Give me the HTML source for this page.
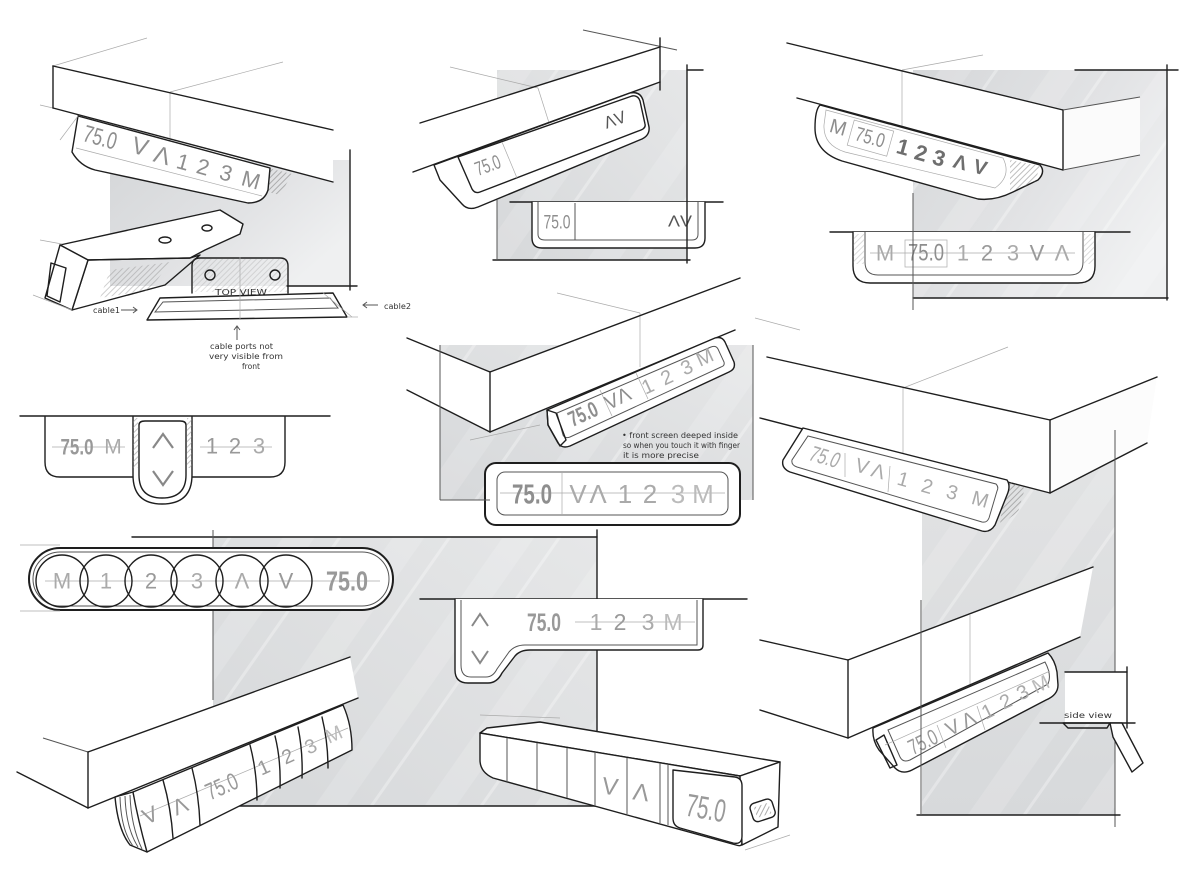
<!DOCTYPE html>
<html><head><meta charset="utf-8"><style>
html,body{margin:0;padding:0;background:#fff;}
svg{display:block;}
.t{font-family:"Liberation Sans",sans-serif;fill:#8e8e8e;text-anchor:middle;dominant-baseline:central;}
.d{fill:#6e6e6e;}
.h{font-family:"DejaVu Sans","Liberation Sans",sans-serif;fill:#333;font-size:8px;}
.k{stroke:#1e1e1e;stroke-width:1.4;fill:none;stroke-linejoin:round;stroke-linecap:round;}
.m{stroke:#555;stroke-width:1;fill:none;}
.l{stroke:#aaa;stroke-width:0.7;fill:none;}
.w{fill:#fff;}
</style></head><body>
<svg width="1200" height="885" viewBox="0 0 1200 885" xmlns="http://www.w3.org/2000/svg">
<defs>
<linearGradient id="g1" x1="0" y1="0" x2="1" y2="0.6"><stop offset="0" stop-color="#d5d7d9"/><stop offset="0.6" stop-color="#e2e3e5"/><stop offset="1" stop-color="#eff0f1"/></linearGradient>
<linearGradient id="g2" x1="0" y1="1" x2="1" y2="0"><stop offset="0" stop-color="#d6d8da"/><stop offset="1" stop-color="#e6e7e8"/></linearGradient>
<linearGradient id="g3" x1="0" y1="0" x2="0" y2="1"><stop offset="0" stop-color="#e2e3e4"/><stop offset="1" stop-color="#d7d9db"/></linearGradient>
<pattern id="st" patternUnits="userSpaceOnUse" width="90" height="90" patternTransform="rotate(35)"><rect width="26" height="90" fill="#fff" opacity="0.14"/><rect x="45" width="3" height="90" fill="#fff" opacity="0.3"/></pattern>
<pattern id="ht" patternUnits="userSpaceOnUse" width="4" height="4" patternTransform="rotate(45)"><rect width="1" height="4" fill="#888"/></pattern>
</defs>

<!-- ===== GRAY BACKDROPS ===== -->
<rect x="110" y="160" width="240" height="126" fill="url(#g1)"/>
<rect x="497" y="70" width="190" height="190" fill="url(#g2)"/>
<rect x="497" y="70" width="190" height="190" fill="url(#st)"/>
<rect x="913" y="70" width="254" height="228" fill="url(#g1)"/>
<rect x="913" y="70" width="254" height="228" fill="url(#st)"/>
<rect x="440" y="345" width="313" height="155" fill="url(#g2)"/>
<rect x="440" y="345" width="313" height="155" fill="url(#st)"/>
<rect x="922" y="440" width="193" height="375" fill="url(#g3)"/>
<rect x="922" y="440" width="193" height="375" fill="url(#st)"/>
<rect x="213" y="537" width="384" height="269" fill="url(#g2)"/>
<rect x="213" y="537" width="384" height="269" fill="url(#st)"/>

<!-- ===== PANEL A ===== -->
<line class="k" x1="350" y1="150" x2="350" y2="290"/>
<line class="k" x1="287" y1="286" x2="357" y2="286"/>
<polygon class="w" points="53,66 333,130 333,182 53,108"/>
<line class="l" x1="53" y1="66" x2="147" y2="38"/>
<line class="l" x1="170" y1="92" x2="283" y2="62"/>
<line class="l" x1="170" y1="92" x2="170" y2="175"/>
<line class="l" x1="40" y1="105" x2="53" y2="108"/>
<line class="k" x1="53" y1="66" x2="333" y2="130"/>
<line class="k" x1="53" y1="66" x2="53" y2="108"/>
<line class="k" x1="53" y1="108" x2="333" y2="182"/>
<polygon points="268,168 292,174 280,195 268,192" fill="url(#ht)" opacity="0.6"/>
<path class="k w" d="M78,116 L270,168 L268,190 Q264,203 248,203 L95,170 Q80,166 72,152 Z"/>
<line class="l" x1="76" y1="148" x2="262" y2="196"/>
<line class="l" x1="60" y1="140" x2="78" y2="116"/>
<text class="t" font-size="24" textLength="34" lengthAdjust="spacingAndGlyphs" transform="translate(100,138) rotate(15.6)">75.0</text>
<text class="t" font-size="24" transform="translate(140,147) rotate(15.6)">V</text>
<text class="t" font-size="24" transform="translate(162,156) rotate(15.6)">Λ</text>
<text class="t" font-size="22" transform="translate(183,162) rotate(15.6)">1</text>
<text class="t" font-size="22" transform="translate(203,167) rotate(15.6)">2</text>
<text class="t" font-size="22" transform="translate(226,173) rotate(15.6)">3</text>
<text class="t" font-size="22" transform="translate(251,180) rotate(15.6)">M</text>
<!-- arm -->
<polygon class="k w" points="60,245 220,210 243,224 240,234 205,250 190,258 88,260"/>
<polygon class="k" fill="#eee" points="88,260 190,258 200,255 165,285 72,310"/>
<polygon points="110,270 170,262 150,290 100,298" fill="url(#ht)" opacity="0.4"/>
<polygon class="k w" points="60,245 88,260 72,310 45,298"/>
<polygon class="k" fill="#d8d8d8" points="51,263 66,268 60,302 47,296"/>
<ellipse class="k" cx="165" cy="240" rx="6" ry="3"/>
<ellipse class="k" cx="207" cy="228" rx="5" ry="3"/>
<line class="l" x1="40" y1="240" x2="62" y2="244"/>
<line class="l" x1="33" y1="295" x2="72" y2="310"/>
<!-- top view plate -->
<path class="k" fill="#f2f2f2" d="M192,293 L192,266 Q192,258 200,258 L280,258 Q288,258 288,266 L288,293"/>
<rect x="193" y="259" width="94" height="33" fill="url(#ht)" opacity="0.25"/>
<circle class="k" cx="210" cy="275" r="5" fill="#fff"/>
<circle class="k" cx="275" cy="275" r="5" fill="#fff"/>
<text class="h" x="215" y="295" textLength="52" lengthAdjust="spacingAndGlyphs">TOP VIEW</text>
<polygon class="k w" points="147,320 160,298 333,293 347,317"/>
<polygon class="m" points="155,312 163,302 330,298 338,308"/>
<line class="l" x1="240" y1="257" x2="240" y2="320"/>
<line class="l" x1="322" y1="292" x2="352" y2="317"/>
<line class="l" x1="347" y1="317" x2="358" y2="317"/>
<text class="h" x="93" y="313" textLength="27" lengthAdjust="spacingAndGlyphs">cable1</text>
<path class="m" d="M121,310 L137,310 M133,307 L137,310 L133,313"/>
<path class="m" d="M378,305 L363,305 M367,302 L363,305 L367,308"/>
<text class="h" x="384" y="309" textLength="27" lengthAdjust="spacingAndGlyphs">cable2</text>
<path class="m" d="M237,340 L237,326 M234,330 L237,326 L240,330"/>
<text class="h" x="210" y="349" textLength="63" lengthAdjust="spacingAndGlyphs">cable ports not</text>
<text class="h" x="209" y="359" textLength="74" lengthAdjust="spacingAndGlyphs">very visible from</text>
<text class="h" x="242" y="369" textLength="18" lengthAdjust="spacingAndGlyphs">front</text>

<!-- ===== PANEL B ===== -->
<polygon class="w" points="410,126 660,47 660,82 410,175"/>
<line class="l" x1="450" y1="67" x2="538" y2="88"/>
<line class="l" x1="538" y1="88" x2="563" y2="167"/>
<line class="m" x1="583" y1="30" x2="677" y2="50"/>
<line class="k" x1="420" y1="123" x2="660" y2="47"/>
<line class="k" x1="660" y1="38" x2="660" y2="90"/>
<line class="k" x1="413" y1="172" x2="660" y2="82"/>
<path class="k w" d="M434,165 L630,93 Q640,91 643,100 L649,127 Q650,135 642,139 L478,207 Q468,211 462,204 L440,180 Z"/>
<path class="k w" d="M458,157 L632,96 Q638,95 640,101 L645,124 Q646,128 641,130 L480,192 Q475,194 472,189 Z"/>
<line class="l" x1="502" y1="142" x2="517" y2="178"/>
<text class="t" font-size="20" textLength="26" lengthAdjust="spacingAndGlyphs" transform="translate(488,166) rotate(-20)">75.0</text>
<text class="t d" font-size="17" textLength="22" lengthAdjust="spacingAndGlyphs" transform="translate(615,120) rotate(-20)" style="fill:#555">ΛV</text>
<line class="k" x1="510" y1="202" x2="723" y2="202"/>
<path class="k w" d="M532,202 L532,238 Q532,248 542,248 L695,248 Q705,248 705,238 L705,202"/>
<path class="m" d="M538,202 L538,234 Q538,240 545,240 L692,240 Q698,240 698,234 L698,202"/>
<line class="m" x1="575" y1="203" x2="575" y2="240"/>
<text class="t" x="557" y="223" font-size="19" textLength="27" lengthAdjust="spacingAndGlyphs">75.0</text>
<text class="t" x="680" y="222" font-size="16" textLength="24" lengthAdjust="spacingAndGlyphs" style="fill:#555">ΛV</text>
<line class="k" x1="687" y1="65" x2="687" y2="263"/>
<line class="k" x1="687" y1="70" x2="703" y2="70"/>
<line class="k" x1="493" y1="260" x2="690" y2="260"/>
<line class="m" x1="497" y1="200" x2="497" y2="260"/>

<!-- ===== PANEL C ===== -->
<polygon class="w" points="787,43 1063,110 1063,170 797,98"/>
<polygon fill="#fbfbfb" points="1063,110 1140,97 1140,155 1063,170"/>
<line class="l" x1="902" y1="70" x2="983" y2="55"/>
<line class="l" x1="902" y1="70" x2="902" y2="130"/>
<line class="k" x1="787" y1="43" x2="1063" y2="110"/>
<line class="k" x1="1063" y1="110" x2="1063" y2="170"/>
<line class="k" x1="797" y1="98" x2="1063" y2="170"/>
<line class="m" x1="1063" y1="110" x2="1140" y2="97"/>
<line class="m" x1="1063" y1="170" x2="1140" y2="155"/>
<path class="k w" d="M820,105 L1040,165 Q1046,172 1038,180 L1013,192 Q995,201 978,199 L842,161 Q815,152 815,128 Q815,110 820,105 Z"/>
<path class="l" d="M826,110 L1003,158 Q1012,176 995,188 L845,152 Q823,145 824,125 Z"/>
<polygon points="1010,160 1040,166 1035,182 1010,192" fill="url(#ht)" opacity="0.55"/>
<text class="t" font-size="20" transform="translate(838,128) rotate(15.7)">M</text>
<rect class="l" x="-20" y="-13" width="41" height="26" transform="translate(870,138) rotate(15.7)"/>
<text class="t" font-size="20" textLength="30" lengthAdjust="spacingAndGlyphs" transform="translate(870,138) rotate(15.7)">75.0</text>
<text class="t d" font-size="22" transform="translate(903,147) rotate(15.7)" font-weight="bold">1</text>
<text class="t d" font-size="22" transform="translate(921,153) rotate(15.7)" font-weight="bold">2</text>
<text class="t d" font-size="22" transform="translate(939,158) rotate(15.7)" font-weight="bold">3</text>
<text class="t d" font-size="20" transform="translate(960,163) rotate(15.7)" font-weight="bold">Λ</text>
<text class="t d" font-size="20" transform="translate(980,168) rotate(15.7)" font-weight="bold">V</text>
<line class="k" x1="830" y1="232" x2="1130" y2="232"/>
<path class="k w" d="M853,232 L853,266 Q853,283 870,283 L1078,283 Q1095,283 1095,266 L1095,232"/>
<path class="m" d="M865,232 L865,262 Q865,275 878,275 L1070,275 Q1083,275 1083,262 L1083,232"/>
<rect x="853" y="234" width="11" height="30" fill="url(#ht)" opacity="0.3"/>
<rect x="1084" y="234" width="10" height="30" fill="url(#ht)" opacity="0.3"/>
<line class="l" x1="870" y1="253" x2="1075" y2="253"/>
<rect class="l" x="905" y="240" width="42" height="27"/>
<text class="t" x="885" y="253" font-size="22" style="fill:#aaa">M</text>
<text class="t" x="926" y="253" font-size="24" textLength="36" lengthAdjust="spacingAndGlyphs">75.0</text>
<text class="t" x="963" y="253" font-size="22" style="fill:#aaa">1</text>
<text class="t" x="987" y="253" font-size="22" style="fill:#999">2</text>
<text class="t" x="1013" y="253" font-size="22" style="fill:#aaa">3</text>
<text class="t" x="1037" y="253" font-size="22" style="fill:#999">V</text>
<text class="t" x="1062" y="253" font-size="22" style="fill:#aaa">Λ</text>
<line class="k" x1="913" y1="298" x2="1168" y2="298"/>
<line class="k" x1="1167" y1="65" x2="1167" y2="300"/>
<line class="k" x1="1075" y1="70" x2="1178" y2="70"/>
<line class="m" x1="913" y1="193" x2="913" y2="310"/>

<!-- ===== PANEL D ===== -->
<line class="k" x1="20" y1="416" x2="330" y2="416"/>
<path class="k w" d="M45,417 L45,462 Q45,477 60,477 L270,477 Q285,477 285,462 L285,417"/>
<line class="l" x1="52" y1="447" x2="125" y2="447"/>
<line class="l" x1="200" y1="447" x2="272" y2="447"/>
<path class="k w" d="M133,417 L133,475 Q133,504 162,504 Q192,504 192,475 L192,417"/>
<rect x="133" y="418" width="5" height="50" fill="url(#ht)" opacity="0.5"/>
<rect x="187" y="418" width="5" height="50" fill="url(#ht)" opacity="0.5"/>
<path class="k w" d="M139,425 Q139,421 145,421 L180,421 Q186,421 186,425 L186,475 Q186,498 162,498 Q139,498 139,475 Z"/>
<text class="t" x="77" y="447" font-size="22" textLength="33" lengthAdjust="spacingAndGlyphs" font-weight="bold" style="fill:#999">75.0</text>
<text class="t" x="113" y="447" font-size="21" style="fill:#aaa">M</text>
<path d="M153,448 L163,434 L173,448" stroke="#888" stroke-width="2.2" fill="none"/>
<path d="M153,471 L163,485 L173,471" stroke="#888" stroke-width="2.2" fill="none"/>
<text class="t" x="212" y="446" font-size="22" style="fill:#999">1</text>
<text class="t" x="235" y="446" font-size="22" style="fill:#999">2</text>
<text class="t" x="259" y="446" font-size="22" style="fill:#aaa">3</text>

<!-- ===== PANEL E ===== -->
<polygon class="w" points="490,372 735,280 735,332 490,432"/>
<polygon class="w" points="407,338 490,372 490,432 407,390"/>
<line class="l" x1="557" y1="293" x2="640" y2="313"/>
<line class="l" x1="640" y1="313" x2="640" y2="367"/>
<line class="l" x1="470" y1="440" x2="540" y2="425"/>
<line class="l" x1="755" y1="318" x2="800" y2="330"/>
<line class="k" x1="407" y1="338" x2="490" y2="372"/>
<line class="k" x1="490" y1="372" x2="740" y2="278"/>
<line class="k" x1="490" y1="372" x2="490" y2="432"/>
<line class="k" x1="407" y1="390" x2="490" y2="432"/>
<line class="k" x1="490" y1="432" x2="735" y2="330"/>
<path class="k w" d="M547,410 L715,338 Q722,336 725,342 L734,362 Q736,369 729,372 L570,446 Q562,449 558,443 L548,425 Z"/>
<path class="m" d="M557,413 L711,347 Q716,345 718,349 L724,362 Q725,366 721,367 L570,437 Q565,439 563,435 Z"/>
<path class="k" fill="#e5e5e5" d="M547,410 L556,413 L566,440 L560,446 L548,425 Z"/>
<line class="l" x1="600" y1="390" x2="612" y2="416"/>
<line class="l" x1="636" y1="373" x2="648" y2="399"/>
<text class="t" font-size="22" textLength="30" lengthAdjust="spacingAndGlyphs" transform="translate(583,414) rotate(-24.7)" font-weight="bold">75.0</text>
<text class="t" font-size="20" transform="translate(612,402) rotate(-24.7)">V</text>
<text class="t" font-size="20" transform="translate(624,396) rotate(-24.7)">Λ</text>
<text class="t" font-size="20" transform="translate(648,387) rotate(-24.7)" style="fill:#aaa">1</text>
<text class="t" font-size="20" transform="translate(667,378) rotate(-24.7)" style="fill:#aaa">2</text>
<text class="t" font-size="20" transform="translate(687,368) rotate(-24.7)" style="fill:#aaa">3</text>
<text class="t" font-size="20" transform="translate(705,358) rotate(-24.7)" style="fill:#aaa">M</text>
<text class="h" x="622" y="438" textLength="116" lengthAdjust="spacingAndGlyphs">• front screen deeped inside</text>
<text class="h" x="623" y="448" textLength="117" lengthAdjust="spacingAndGlyphs">so when you touch it with finger</text>
<text class="h" x="623" y="458" textLength="76" lengthAdjust="spacingAndGlyphs">it is more precise</text>
<rect x="485" y="463" width="255" height="62" rx="11" class="k w" style="stroke-width:2"/>
<rect x="497" y="472" width="231" height="43" rx="8" class="m"/>
<line class="l" x1="500" y1="493" x2="725" y2="493"/>
<line class="l" x1="562" y1="472" x2="562" y2="515"/>
<text class="t" x="532" y="494" font-size="28" textLength="40" lengthAdjust="spacingAndGlyphs" font-weight="bold">75.0</text>
<text class="t" x="578" y="494" font-size="26" style="fill:#aaa">V</text>
<text class="t" x="598" y="494" font-size="26" style="fill:#aaa">Λ</text>
<text class="t" x="625" y="494" font-size="26" style="fill:#aaa">1</text>
<text class="t" x="650" y="494" font-size="26" style="fill:#aaa">2</text>
<text class="t" x="678" y="494" font-size="26" style="fill:#bbb">3</text>
<text class="t" x="703" y="494" font-size="26" style="fill:#bbb">M</text>
<line class="m" x1="440" y1="500" x2="490" y2="500"/>
<line class="m" x1="753" y1="345" x2="753" y2="500"/>
<line class="m" x1="440" y1="345" x2="440" y2="500"/>

<!-- ===== PANEL F ===== -->
<polygon class="w" points="767,357 1050,420 1050,493 760,418"/>
<polygon fill="#fcfcfc" points="1050,420 1157,377 1147,443 1050,493"/>
<line class="l" x1="903" y1="388" x2="1008" y2="347"/>
<line class="l" x1="903" y1="388" x2="903" y2="455"/>
<line class="k" x1="767" y1="357" x2="1050" y2="420"/>
<line class="k" x1="760" y1="418" x2="1050" y2="493"/>
<line class="k" x1="1050" y1="420" x2="1050" y2="493"/>
<line class="k" x1="1050" y1="420" x2="1157" y2="377"/>
<line class="k" x1="1050" y1="493" x2="1147" y2="443"/>
<polygon points="1005,480 1025,488 1018,512 1000,525" fill="url(#ht)" opacity="0.6"/>
<path class="k w" d="M803,428 L1007,480 Q1011,486 1007,495 L995,525 Q990,533 982,531 L790,472 Q781,468 783,460 Z"/>
<path class="m" d="M808,436 L996,484 Q999,487 997,491 L989,518 Q987,523 982,522 L797,467 Q791,465 792,460 Z"/>
<line class="l" x1="845" y1="453" x2="845" y2="477"/>
<line class="l" x1="890" y1="466" x2="888" y2="492"/>
<text class="t" font-size="22" textLength="30" lengthAdjust="spacingAndGlyphs" transform="translate(825,457) rotate(16) skewX(-10)" style="fill:#aaa">75.0</text>
<text class="t" font-size="20" transform="translate(862,467) rotate(16)" style="fill:#aaa">V</text>
<text class="t" font-size="20" transform="translate(878,472) rotate(16)" style="fill:#aaa">Λ</text>
<text class="t" font-size="20" transform="translate(903,480) rotate(16)" style="fill:#aaa">1</text>
<text class="t" font-size="20" transform="translate(927,487) rotate(16)" style="fill:#aaa">2</text>
<text class="t" font-size="20" transform="translate(952,493) rotate(16)" style="fill:#aaa">3</text>
<text class="t" font-size="20" transform="translate(980,500) rotate(16)" style="fill:#aaa">M</text>
<line class="m" x1="1115" y1="430" x2="1115" y2="827"/>

<!-- ===== PANEL G (pill) ===== -->
<line class="k" x1="132" y1="537" x2="597" y2="537"/>
<line class="m" x1="213" y1="530" x2="213" y2="700"/>
<line class="k" x1="597" y1="530" x2="597" y2="806"/>
<line class="k" x1="213" y1="806" x2="597" y2="806"/>
<rect x="29" y="548" width="364" height="62" rx="31" class="k w" style="stroke-width:2"/>
<rect x="33" y="552" width="356" height="54" rx="27" class="m"/>
<line class="l" x1="20" y1="545" x2="60" y2="545"/>
<line class="l" x1="20" y1="611" x2="60" y2="611"/>
<line class="l" x1="45" y1="581" x2="380" y2="581"/>
<circle class="k" cx="62" cy="581" r="26"/>
<circle class="k" cx="106" cy="581" r="26"/>
<circle class="k" cx="151" cy="581" r="26"/>
<circle class="k" cx="197" cy="581" r="26"/>
<circle class="k" cx="242" cy="581" r="26"/>
<circle class="k" cx="286" cy="581" r="26"/>
<text class="t" x="62" y="581" font-size="22" style="fill:#aaa">M</text>
<text class="t" x="106" y="581" font-size="22" style="fill:#aaa">1</text>
<text class="t" x="151" y="581" font-size="22" style="fill:#999">2</text>
<text class="t" x="197" y="581" font-size="22" style="fill:#aaa">3</text>
<text class="t" x="242" y="581" font-size="22" style="fill:#aaa">Λ</text>
<text class="t" x="286" y="581" font-size="22" style="fill:#999">V</text>
<text class="t" x="347" y="581" font-size="28" textLength="42" lengthAdjust="spacingAndGlyphs" font-weight="bold" style="fill:#999">75.0</text>

<!-- ===== PANEL H ===== -->
<line class="k" x1="420" y1="599" x2="747" y2="599"/>
<path class="k w" d="M455,599 L455,670 Q455,683 468,683 L488,683 Q497,683 502,673 L515,656 Q520,650 530,650 L698,650 Q703,650 703,645 L703,599"/>
<path class="m" d="M461,600 L461,665 Q461,677 471,677 L486,677 Q493,677 497,669 L509,652 Q515,645 525,645 L697,645 L697,600"/>
<line class="l" x1="575" y1="622" x2="695" y2="622"/>
<path d="M472,626 L480,614 L488,626" stroke="#888" stroke-width="2" fill="none"/>
<path d="M472,651 L480,663 L488,651" stroke="#888" stroke-width="2" fill="none"/>
<text class="t" x="544" y="623" font-size="25" textLength="34" lengthAdjust="spacingAndGlyphs" font-weight="bold" style="fill:#999">75.0</text>
<text class="t" x="596" y="622" font-size="23" style="fill:#aaa">1</text>
<text class="t" x="620" y="622" font-size="23" style="fill:#999">2</text>
<text class="t" x="648" y="622" font-size="23" style="fill:#aaa">3</text>
<text class="t" x="673" y="622" font-size="23" style="fill:#bbb">M</text>

<!-- ===== PANEL I (device) ===== -->
<line class="l" x1="480" y1="715" x2="560" y2="718"/>
<polygon class="k w" points="487,728 540,722 780,762 740,776 480,733"/>
<path class="k w" d="M480,733 L740,776 L742,843 Q742,847 736,845 L493,778 Q480,772 480,760 Z"/>
<path class="k w" d="M740,776 L780,762 L778,827 L742,845 Z"/>
<line class="m" x1="507" y1="738" x2="507" y2="782"/>
<line class="m" x1="537" y1="743" x2="537" y2="790"/>
<line class="m" x1="567" y1="748" x2="567" y2="798"/>
<line class="m" x1="595" y1="752" x2="595" y2="806"/>
<line class="m" x1="627" y1="758" x2="627" y2="814"/>
<line class="m" x1="660" y1="763" x2="660" y2="823"/>
<line class="m" x1="668" y1="765" x2="668" y2="825"/>
<path class="k w" d="M673,770 L735,777 Q742,778 742,786 L742,836 Q742,845 733,843 L680,828 Q673,826 673,818 Z"/>
<text class="t" font-size="24" transform="translate(610,787) rotate(8)" style="fill:#999">V</text>
<text class="t" font-size="24" transform="translate(641,793) rotate(8)" style="fill:#999">Λ</text>
<text class="t" font-size="32" textLength="40" lengthAdjust="spacingAndGlyphs" transform="translate(706,808) rotate(10)" style="fill:#999">75.0</text>
<rect class="k" x="751" y="801" width="23" height="19" rx="5" transform="rotate(-18 762 810)" fill="#eee"/>
<rect x="755" y="805" width="15" height="11" transform="rotate(-18 762 810)" fill="url(#ht)" opacity="0.7"/>
<line class="l" x1="745" y1="850" x2="790" y2="835"/>

<!-- ===== PANEL J ===== -->
<polygon class="w" points="88,752 350,657 358,698 88,808"/>
<polygon class="w" points="43,738 88,752 88,808 17,772"/>
<line class="m" x1="43" y1="738" x2="88" y2="752"/>
<line class="k" x1="88" y1="752" x2="350" y2="657"/>
<line class="k" x1="88" y1="752" x2="88" y2="808"/>
<line class="k" x1="17" y1="772" x2="88" y2="808"/>
<line class="k" x1="88" y1="808" x2="358" y2="698"/>
<path class="k" fill="#eee" d="M115,797 L133,792 L147,852 L130,845 Q118,830 115,797 Z"/>
<path class="m" d="M120,797 Q121,830 133,846 M125,796 Q126,828 138,847 M130,795 Q131,826 142,849"/>
<path class="k w" d="M133,792 L343,705 Q352,725 352,750 L147,852 Q138,820 133,792 Z"/>
<line class="l" x1="140" y1="816" x2="348" y2="728"/>
<path class="k" d="M163,780 Q171,808 173,838"/>
<path class="k" d="M192,768 Q199,795 200,825"/>
<path class="k" d="M250,745 Q257,772 257,800"/>
<path class="k" d="M275,736 Q281,760 280,788"/>
<path class="k" d="M298,727 Q303,752 302,778"/>
<path class="k" d="M322,717 Q328,742 328,768"/>
<text class="t" font-size="22" transform="translate(150,815) rotate(-24)" style="fill:#999">V</text>
<text class="t" font-size="22" transform="translate(180,806) rotate(-24)" style="fill:#999">Λ</text>
<text class="t" font-size="24" textLength="33" lengthAdjust="spacingAndGlyphs" transform="translate(222,787) rotate(-24)" style="fill:#999">75.0</text>
<text class="t" font-size="20" transform="translate(264,768) rotate(-24)" style="fill:#999">1</text>
<text class="t" font-size="20" transform="translate(288,757) rotate(-24)" style="fill:#999">2</text>
<text class="t" font-size="20" transform="translate(311,747) rotate(-24)" style="fill:#aaa">3</text>
<text class="t" font-size="20" transform="translate(334,735) rotate(-24)" style="fill:#bbb">M</text>

<!-- ===== PANEL K ===== -->
<polygon class="w" points="760,640 848,660 848,738 760,710"/>
<polygon class="w" points="848,660 1093,567 1080,637 848,738"/>
<line class="l" x1="970" y1="615" x2="970" y2="700"/>
<line class="k" x1="760" y1="640" x2="848" y2="660"/>
<line class="k" x1="848" y1="660" x2="1093" y2="567"/>
<line class="k" x1="848" y1="660" x2="848" y2="738"/>
<line class="k" x1="760" y1="710" x2="848" y2="738"/>
<line class="k" x1="848" y1="738" x2="1080" y2="637"/>
<path class="k w" d="M873,728 L1048,653 Q1055,660 1057,672 L1058,685 Q1058,695 1046,700 L912,770 Q902,775 895,768 L879,750 Q872,740 873,728 Z"/>
<path class="m" d="M888,730 L1045,662 Q1052,675 1048,684 L910,760 Q903,763 900,757 Z"/>
<path class="k" fill="#e8e8e8" d="M876,740 L884,735 L897,765 L890,768 Z"/>
<line class="l" x1="885" y1="745" x2="1050" y2="671"/>
<line class="l" x1="937" y1="725" x2="946" y2="748"/>
<line class="l" x1="977" y1="706" x2="985" y2="730"/>
<text class="t" font-size="22" textLength="30" lengthAdjust="spacingAndGlyphs" transform="translate(923,742) rotate(-26)" style="fill:#999">75.0</text>
<text class="t" font-size="20" transform="translate(953,728) rotate(-26)" style="fill:#999">V</text>
<text class="t" font-size="20" transform="translate(969,720) rotate(-26)" style="fill:#999">Λ</text>
<text class="t" font-size="20" transform="translate(988,712) rotate(-26)" style="fill:#aaa">1</text>
<text class="t" font-size="20" transform="translate(1006,702) rotate(-26)" style="fill:#aaa">2</text>
<text class="t" font-size="20" transform="translate(1023,693) rotate(-26)" style="fill:#aaa">3</text>
<text class="t" font-size="20" transform="translate(1041,685) rotate(-26)" style="fill:#bbb">M</text>
<polygon fill="#fff" points="1065,672 1127,672 1127,723 1065,723"/>
<line class="k" x1="1065" y1="672" x2="1127" y2="672"/>
<line class="k" x1="1127" y1="667" x2="1127" y2="728"/>
<line class="k" x1="1040" y1="723" x2="1135" y2="723"/>
<text class="h" x="1064" y="718" textLength="48" lengthAdjust="spacingAndGlyphs">side view</text>
<polygon class="k" fill="#ddd" points="1063,723 1110,723 1107,728 1068,728"/>
<polygon class="k w" points="1110,723 1122,723 1143,763 1132,772 1113,737"/>
<line class="k" x1="917" y1="815" x2="1120" y2="815"/>
<line class="m" x1="921" y1="600" x2="921" y2="815"/>
</svg>
</body></html>
